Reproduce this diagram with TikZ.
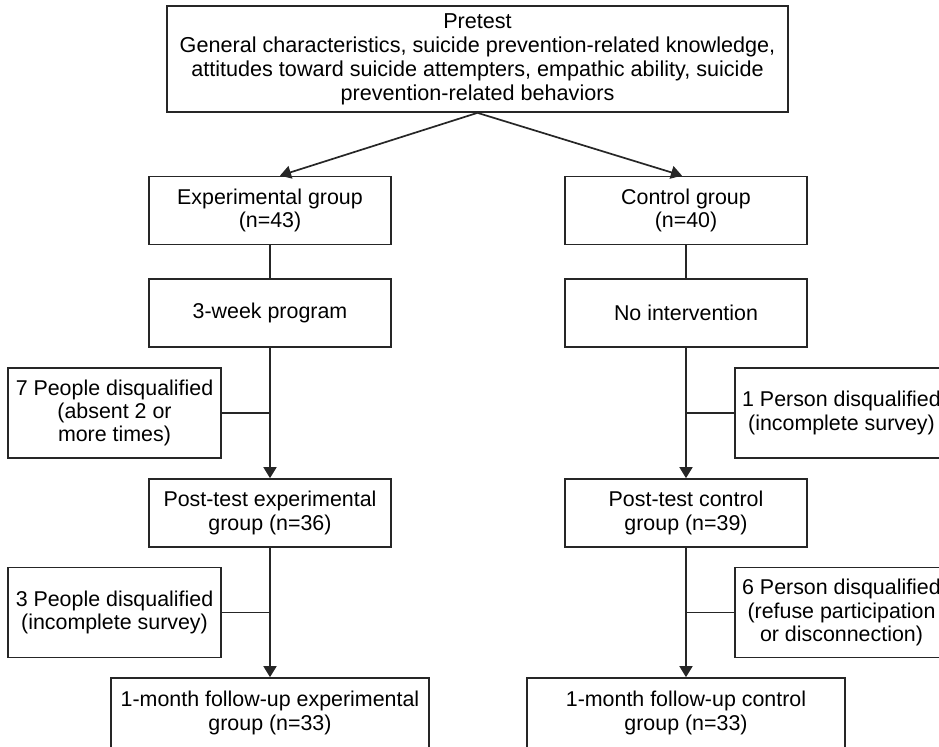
\documentclass[tikz,border=0pt]{standalone}
\usepackage{fontspec}
\setmainfont{Liberation Sans}
\usetikzlibrary{calc,arrows.meta,positioning}

\begin{document}
\begin{tikzpicture}[x=0.5pt,y=-0.5pt,font=\fontsize{10.7}{11.6}\selectfont]

\tikzset{flowbox/.style={draw=black!85,line width=0.85pt,align=center,inner sep=0pt,minimum width=121pt,minimum height=34pt},
followbox/.style={flowbox,minimum width=159pt,minimum height=35pt},
dropbox/.style={flowbox,minimum width=106.5pt,minimum height=45pt},
flowline/.style={draw=black!85,line width=0.85pt},
flowarrow/.style={flowline,-{Triangle[length=5.5pt,width=6.5pt]}}}

\useasboundingbox (0,0) rectangle (939,746);
\clip (0,0) rectangle (939,746);

% Pretest
\node[flowbox,minimum width=310.5pt,minimum height=53pt,font=\fontsize{10.8}{12}\selectfont] (pre) at (477.5,59) {Pretest\\General characteristics, suicide prevention-related knowledge,\\attitudes toward suicide attempters, empathic ability, suicide\\prevention-related behaviors};

% Experimental branch
\node[flowbox] (exp) at (270,210.5) {Experimental group\\(n=43)};
\node[flowbox] (prog) at (270,313) {3-week program};
\node[dropbox] (dq1) at (114.5,413) {7 People disqualified\\(absent 2 or\\more times)};
\node[flowbox] (post) at (270,513) {Post-test experimental\\group (n=36)};
\node[dropbox] (dq3) at (114.5,612.5) {3 People disqualified\\(incomplete survey)};
\node[followbox] (fue) at (270,713) {1-month follow-up experimental\\group (n=33)};

% Control branch
\node[flowbox] (ctrl) at (686,210.5) {Control group\\(n=40)};
\node[flowbox] (noint) at (686,313) {No intervention};
\node[dropbox] (dq2) at (841.5,413) {1 Person disqualified\\(incomplete survey)};
\node[flowbox] (postc) at (686,513) {Post-test control\\group (n=39)};
\node[dropbox] (dq4) at (841.5,612.5) {6 Person disqualified\\(refuse participation\\or disconnection)};
\node[followbox] (fuc) at (686,713) {1-month follow-up control\\group (n=33)};

% Edges
\draw[flowarrow] (pre.south) -- ($(exp.north)+(10,0)$);
\draw[flowarrow] (pre.south) -- ($(ctrl.north)+(-4,0)$);
\draw[flowline] (exp) -- (prog); \draw[flowarrow] (prog) -- (post); \draw[flowarrow] (post) -- (fue); % experimental
\draw[flowline] (ctrl) -- (noint); \draw[flowarrow] (noint) -- (postc); \draw[flowarrow] (postc) -- (fuc); % control

% Drop-outs
\draw[flowline] (dq1.east) -- (dq1.east -| prog.south);
\draw[flowline] (dq3.east) -- (dq3.east -| post.south);
\draw[flowline] (dq2.west) -- (dq2.west -| noint.south);
\draw[flowline] (dq4.west) -- (dq4.west -| postc.south);

\end{tikzpicture}
\end{document}
